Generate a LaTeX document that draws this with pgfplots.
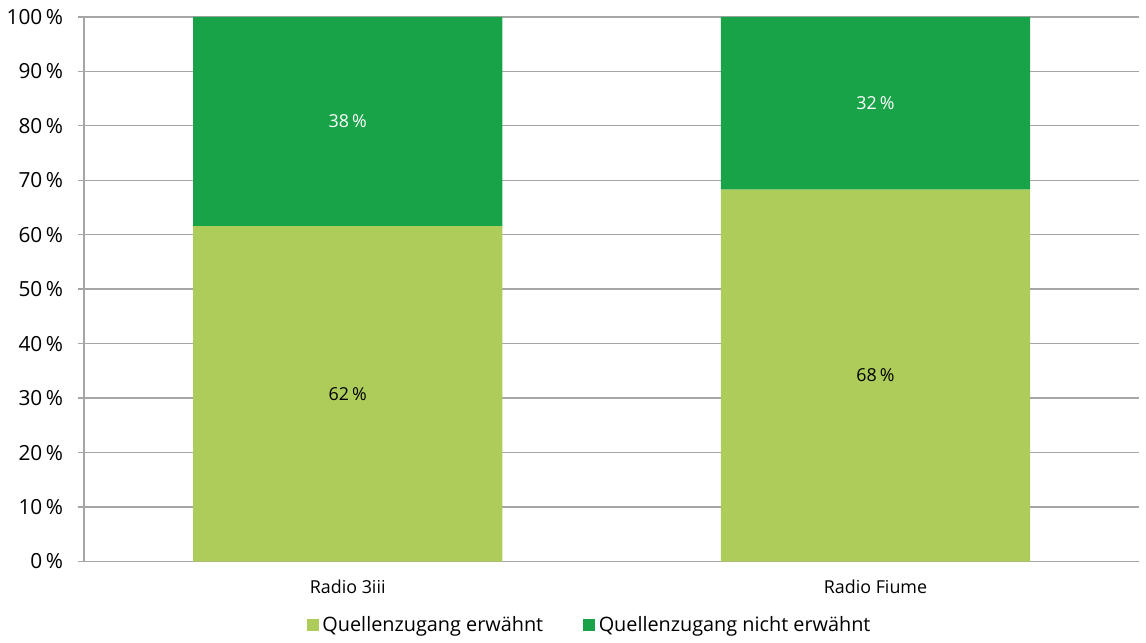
\documentclass[border=0pt]{standalone}
\usepackage{pgfplots}
\pgfplotsset{compat=1.18}
\usepackage{fontspec}
\setmainfont{Open Sans}
\definecolor{hellgruen}{HTML}{AECC5A}
\definecolor{dunkelgruen}{HTML}{19A349}
\definecolor{gitter}{HTML}{A6A6A6}
\begin{document}
\begin{tikzpicture}
\begin{axis}[
    width=532pt, height=274.5pt,
    scale only axis,
    ybar stacked,
    bar width=0.586,
    xmin=-0.5, xmax=1.5,
    ymin=0, ymax=100,
    xtick={0,1},
    xticklabels={Radio 3iii, Radio Fiume},
    major x tick style={draw=none},
    extra x ticks={-0.5,0.5,1.5},
    extra x tick labels={},
    extra x tick style={major tick length=4pt, tick align=outside, tick style={draw=gitter, line width=0.6pt}},
    ytick={0,10,...,100},
    yticklabel={\pgfmathprintnumber{\tick}\,\%},
    /pgf/number format/assume math mode=true,
    ymajorgrids=true,
    grid style={gitter, line width=0.7pt},
    axis lines*=left,
    axis line style={gitter, line width=0.7pt},
    y tick style={gitter, line width=0.7pt},
    tick align=outside,
    major tick length=3pt,
    ticklabel style={font=\fontsize{9}{10}\selectfont, text=black},
    yticklabel style={font=\fontsize{10.5}{11}\selectfont, xshift=-4pt},
    xticklabel style={yshift=-3pt},
    legend style={at={(0.48,-0.117)}, anchor=center, draw=none, legend columns=2,
        font=\fontsize{10}{12}\selectfont,
        /tikz/every even column/.append style={column sep=18pt}},
    legend image code/.code={\fill[#1] (0pt,-3pt) rectangle (6pt,3pt);},
]
\addplot[fill=hellgruen, draw=none] coordinates {(0,61.6) (1,68.3)};
\addplot[fill=dunkelgruen, draw=none] coordinates {(0,38.4) (1,31.7)};
\legend{Quellenzugang erwähnt, Quellenzugang nicht erwähnt}
\coordinate (a1) at (axis cs:0,30.8);
\coordinate (a2) at (axis cs:0,80.8);
\coordinate (b1) at (axis cs:1,34.15);
\coordinate (b2) at (axis cs:1,84.15);
\coordinate (oben) at (axis cs:-0.5,100);
\end{axis}
\path ([yshift=8.5pt]oben);
\node[font=\fontsize{9}{10}\selectfont, text=black] at (a1) {62\,\%};
\node[font=\fontsize{9}{10}\selectfont, text=white] at (a2) {38\,\%};
\node[font=\fontsize{9}{10}\selectfont, text=black] at (b1) {68\,\%};
\node[font=\fontsize{9}{10}\selectfont, text=white] at (b2) {32\,\%};
\end{tikzpicture}
\end{document}
